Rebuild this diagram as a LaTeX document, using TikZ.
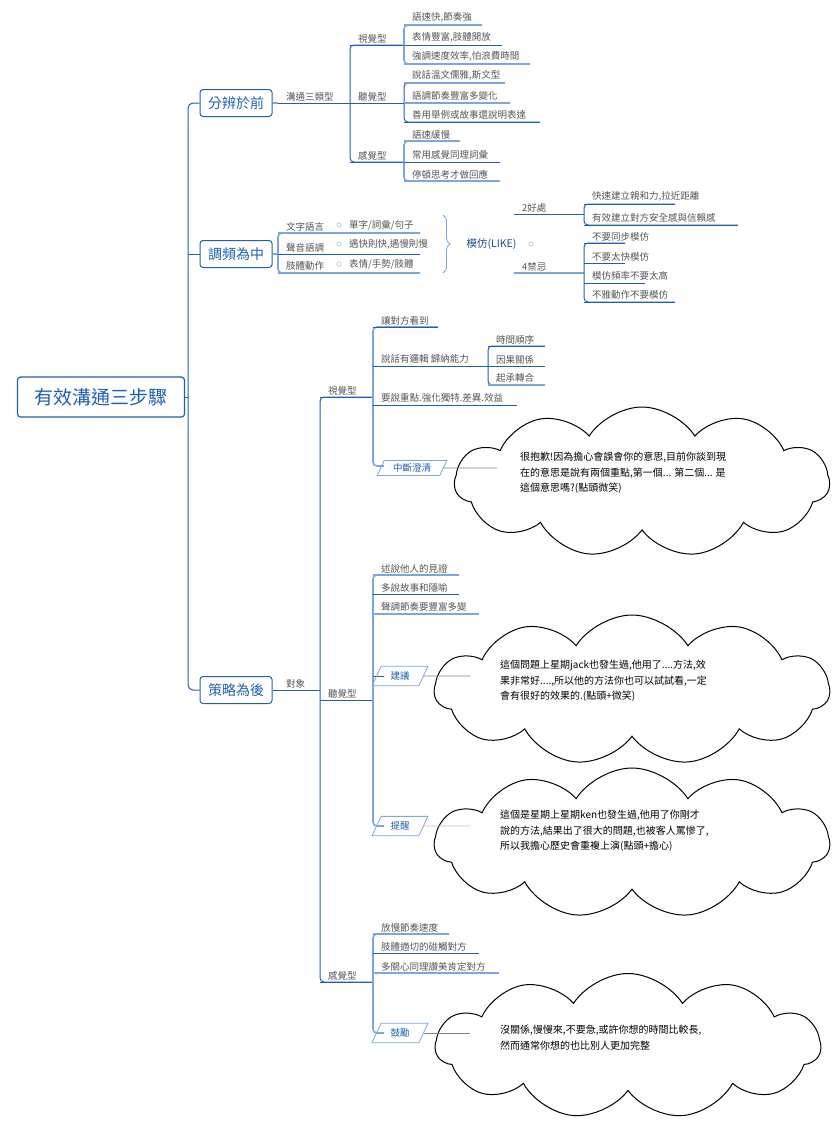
\documentclass[tikz,border=0pt]{standalone}
\usepackage{fontspec}
\setmainfont{Noto Sans CJK TC}
\usetikzlibrary{shapes.symbols,shapes.geometric,decorations.pathreplacing}
\definecolor{dk}{HTML}{1F5FB0}
\definecolor{lt}{HTML}{7EA6DE}
\definecolor{tx}{HTML}{555555}
\begin{document}
\begin{tikzpicture}[x=1pt,y=-1pt,
  lbl/.style={font=\fontsize{9.5}{11}\selectfont,text=tx,inner sep=1pt},
  ln/.style={draw=dk,line width=1pt},
  lnl/.style={draw=lt,line width=1.6pt},
  big/.style={draw=dk,rounded corners=3pt,line width=1pt,text=dk,font=\fontsize{14}{16}\selectfont,minimum width=72pt,minimum height=27pt},
  para/.style={trapezium,trapezium left angle=65,trapezium right angle=115,draw=lt,line width=0.8pt,text=dk,font=\fontsize{9.5}{11}\selectfont,minimum width=56pt,minimum height=15pt,inner sep=1pt},
  cl/.style={cloud,cloud puffs=11,cloud puff arc=115,draw=black,line width=1pt,fill=white,inner sep=0pt},
  ct/.style={font=\fontsize{10}{15.5}\selectfont\itshape,text=black,align=left,anchor=north west,inner sep=0pt},
  mk/.style={draw=lt!80,line width=0.5pt}]
\useasboundingbox (0,0) rectangle (837,1127);
\newcommand\lf[6]{\node[lbl,anchor=south west] (#1) at (#2+7,#3-1) {#5};\draw[#6] (#2,#3) -- (#4,#3);}
% root
\node[draw=dk,rounded corners=3pt,line width=1.2pt,text=dk,font=\fontsize{19}{22}\selectfont,minimum width=167pt,minimum height=40pt] (root) at (101,397) {有效溝通三步驟};
\node[big] (a) at (236,103) {分辨於前};
\node[big] (b) at (236,254) {調頻為中};
\node[big] (c) at (236,690) {策略為後};
\draw[ln,rounded corners=5pt] (a.west) -- (188,103) -- (188,690) -- (c.west);
\draw[ln] (root.east) -- (188,397);
\draw[ln,rounded corners=5pt] (b.west) -- (188,254);
% A
\draw[lnl] (a.east) -- (278,103);
\lf{a1}{278}{103}{350}{溝通三類型}{ln}
\draw[ln,rounded corners=4pt] (405,45) -- (350,45) -- (350,162) -- (405,162);
\lf{v}{350}{45}{405}{視覺型}{ln}
\lf{h}{350}{103}{405}{聽覺型}{ln}
\lf{f}{350}{162}{405}{感覺型}{ln}
\draw[lnl,rounded corners=4pt] (482,25) -- (404,25) -- (404,64) -- (530,64);
\lf{v1}{404}{25}{482}{語速快,節奏強}{lnl}
\lf{v2}{404}{45}{502}{表情豐富,肢體開放}{ln}
\lf{v3}{404}{64}{530}{強調速度效率,怕浪費時間}{lnl}
\draw[ln,rounded corners=4pt] (505,83) -- (404,83) -- (404,122) -- (540,122);
\lf{h1}{404}{83}{505}{說話溫文儒雅,斯文型}{lnl}
\lf{h2}{404}{103}{510}{語調節奏豐富多變化}{lnl}
\lf{h3}{404}{122}{540}{善用舉例或故事還說明表達}{ln}
\draw[lnl,rounded corners=4pt] (460,141) -- (404,141) -- (404,181) -- (500,181);
\lf{f1}{404}{141}{460}{語速緩慢}{lnl}
\lf{f2}{404}{162}{500}{常用感覺同理詞彙}{ln}
\lf{f3}{404}{181}{500}{停頓思考才做回應}{lnl}
% B
\draw[lnl,rounded corners=4pt] (b.east) -- (278,254);
\draw[lnl,rounded corners=4pt] (420,233) -- (278,233) -- (278,273) -- (420,273);
\lf{b1}{278}{233}{420}{文字語言}{lnl}
\lf{b2}{278}{254}{420}{聲音語調}{ln}
\lf{b3}{278}{273}{420}{肢體動作}{lnl}
\foreach \y in {225,244,264} \draw[mk] (339,\y) circle (2.2);
\node[lbl,anchor=west] (b1x) at (348,225) {單字/詞彙/句子};
\node[lbl,anchor=west] (b2x) at (348,244) {遇快則快,遇慢則慢};
\node[lbl,anchor=west] (b3x) at (348,264) {表情/手勢/肢體};
\draw[lt,line width=0.8pt,decorate,decoration={brace,amplitude=7pt}] (443,215) -- (443,273);
\node[font=\fontsize{10.5}{12}\selectfont\itshape,text=dk!80!black,anchor=west] (like) at (463,244) {模仿(LIKE)};
\draw[mk] (531,244) circle (2.2);
\lf{g}{514}{214}{584}{2好處}{ln}
\lf{j}{514}{273}{584}{4禁忌}{lnl}
\draw[ln,rounded corners=4pt] (675,204) -- (584,204) -- (584,225) -- (738,225);
\lf{g1}{584}{204}{675}{快速建立親和力,拉近距離}{ln}
\lf{g2}{584}{225}{738}{有效建立對方安全感與信賴感}{ln}
\draw[ln,rounded corners=4pt] (625,243) -- (584,243) -- (584,302) -- (675,302);
\lf{j1}{584}{243}{625}{不要同步模仿}{ln}
\lf{j2}{584}{263}{625}{不要太快模仿}{ln}
\lf{j3}{584}{283}{645}{模仿頻率不要太高}{ln}
\lf{j4}{584}{302}{675}{不雅動作不要模仿}{ln}
% C
\draw[ln] (c.east) -- (320,690);
\node[lbl,anchor=south west] (obj) at (285,689) {對象};
\draw[ln,rounded corners=4pt] (372,397) -- (320,397) -- (320,982) -- (372,982);
\lf{cv}{320}{397}{372}{視覺型}{ln}
\lf{ch}{320}{700}{372}{聽覺型}{ln}
\lf{cf}{320}{982}{372}{感覺型}{ln}
% C visual
\draw[lnl,rounded corners=4pt] (438,327) -- (373,327) -- (373,466) -- (384,466);
\lf{cv1}{373}{327}{438}{讓對方看到}{ln}
\lf{cv2}{373}{366}{488}{說話有邏輯 歸納能力}{ln}
\lf{cv3}{373}{405}{517}{要說重點.強化獨特.差異.效益}{ln}
\draw[ln,rounded corners=4pt] (545,346) -- (488,346) -- (488,385) -- (545,385);
\lf{cv21}{488}{346}{545}{時間順序}{ln}
\lf{cv22}{488}{366}{545}{因果關係}{ln}
\lf{cv23}{488}{385}{545}{起承轉合}{lnl}
\node[para] (p1) at (412,468) {中斷澄清};
\node[cl,minimum width=375pt,minimum height=150pt] (k1) at (642,482) {};
\draw[gray,line width=0.8pt] (p1.east) -- (497,468);
\node[ct] (t1) at (520,452) {很抱歉!因為擔心會誤會你的意思,目前你談到現\\在的意思是說有兩個重點,第一個... 第二個... 是\\這個意思嗎?(點頭微笑)};
% C auditory
\draw[lnl,rounded corners=4pt] (459,575) -- (373,575) -- (373,826) -- (384,826);
\lf{ch1}{373}{575}{459}{述說他人的見證}{lnl}
\lf{ch2}{373}{594}{459}{多說故事和隱喻}{ln}
\lf{ch3}{373}{614}{479}{聲調節奏要豐富多變}{lnl}
\draw[ln] (373,676) -- (384,676);
\node[para] (p2) at (400,676) {建議};
\node[cl,minimum width=395pt,minimum height=150pt] (k2) at (632,690) {};
\draw[gray,line width=0.8pt] (p2.east) -- (470,676);
\node[ct] (t2) at (500,660) {這個問題上星期jack也發生過,他用了....方法,效\\果非常好....,所以他的方法你也可以試試看,一定\\會有很好的效果的.(點頭+微笑)};
\node[para] (p3) at (400,826) {提醒};
\node[cl,minimum width=395pt,minimum height=150pt] (k3) at (632,843) {};
\draw[lightgray,line width=0.8pt] (p3.east) -- (470,826);
\node[ct] (t3) at (500,810) {這個是星期上星期ken也發生過,他用了你剛才\\說的方法,結果出了很大的問題,也被客人罵慘了,\\所以我擔心歷史會重複上演(點頭+擔心)};
% C feeling
\draw[lnl,rounded corners=4pt] (449,934) -- (373,934) -- (373,1033) -- (384,1033);
\lf{cf1}{373}{934}{449}{放慢節奏速度}{lnl}
\lf{cf2}{373}{953}{479}{肢體適切的碰觸對方}{ln}
\lf{cf3}{373}{973}{499}{多關心同理讚美肯定對方}{lnl}
\node[para] (p4) at (400,1033) {鼓勵};
\node[cl,minimum width=385pt,minimum height=145pt] (k4) at (628,1046) {};
\draw[gray,line width=0.8pt] (p4.east) -- (470,1033);
\node[ct] (t4) at (500,1025) {沒關係,慢慢來,不要急,或許你想的時間比較長,\\然而通常你想的也比別人更加完整};
\end{tikzpicture}
\end{document}
